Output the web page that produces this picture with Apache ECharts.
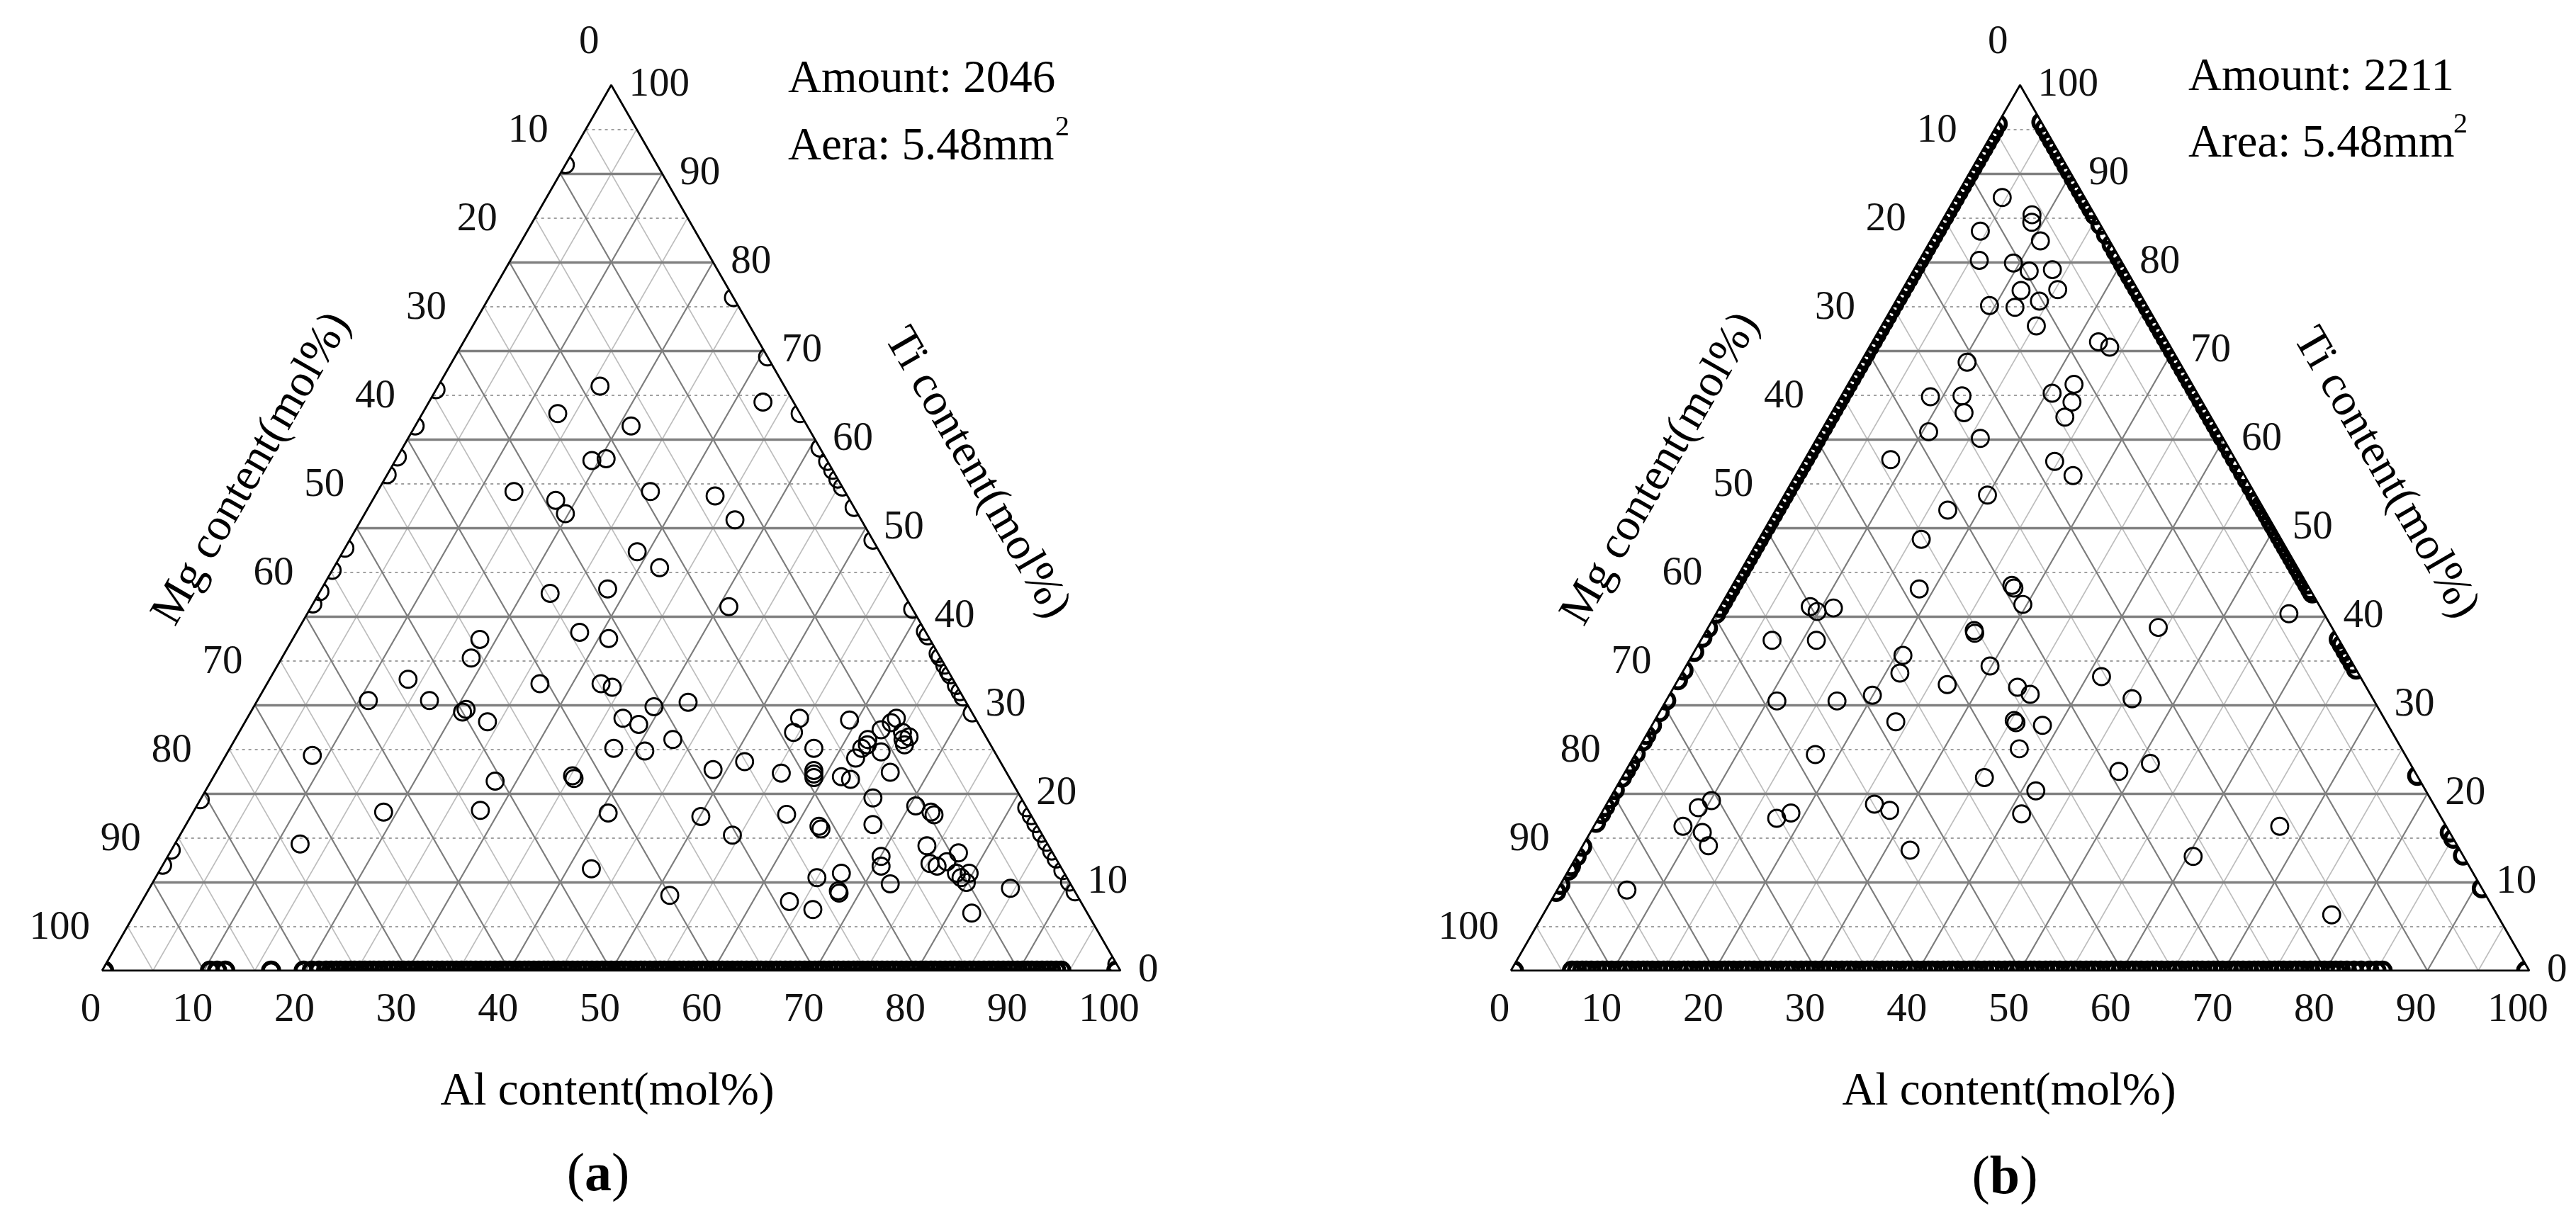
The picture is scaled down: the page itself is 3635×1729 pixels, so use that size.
<!DOCTYPE html>
<html>
<head>
<meta charset="utf-8">
<script src="https://cdn.jsdelivr.net/npm/echarts@6/dist/echarts.min.js"></script>
<style>
html,body{margin:0;padding:0;background:#fff;overflow:hidden;}
#chart{width:3635px;height:1729px;}
</style>
</head>
<body>
<div id="chart"></div>
<script>
// ---------- DATA (ternary values: [Al, Ti] in mol%, Mg = 100 - Al - Ti) ----------
const tickLabels = [0, 10, 20, 30, 40, 50, 60, 70, 80, 90, 100];
const majorGrid = [10, 20, 30, 40, 50, 60, 70, 80, 90];
const minorGrid = [5, 15, 25, 35, 45, 55, 65, 75, 85, 95];

// panel (a)
const aInterior = [
 [15.9,66],[13.3,62.9],[21.2,61.5],[32.8,64.2],[19.3,57.6],[20.6,57.8],[13.4,54.1],[18,53.1],[19.7,51.6],
 [26.8,54.1],[33.4,53.6],[36.7,50.9],[28.9,47.3],[32,45.5],[22.7,42.6],[28.1,43.1],[41,41.1],
 [18.4,37.4],[18.6,35.3],[27.8,38.2],[31,37.5],[13.6,32.9],[10.9,30.5],[16.9,30.5],[20.8,29.2],[21.0,29.5],
 [23.8,28.1],[26.8,32.4],[32.8,32.4],[34.1,32],[39.3,29.8],[36.9,28.5],[38.8,27.8],[43,26.1],[37.7,25.1],
 [40.9,24.8],[8.5,24.3],[27.9,21.4],[35.2,22],[35.5,21.7],[18.7,17.9],[28.1,18.1],[40.8,17.8],[12.3,14.3],
 [42.3,11.5],[51.5,8.5],
 [42.4,30.3],[48.65,22.7],[51.3,23.6],[55.55,22.3],[54.25,28.5],[54.45,26.9],[57.35,25.1],[58.6,22.6],
 [58.8,22.2],[59,21.8],[59.25,28.3],[61.65,21.9],[62.7,21.6],[63.75,28.5],[63.5,28.0],[62.9,27.2],[62.15,26.1],
 [62.4,25.5],[62.05,25.1],[62,24],[64.15,24.7],[65.15,26.9],[66.05,26.4],[65.6,26.1],[66.05,25.5],[66.2,22.4],
 [65.95,19.5],[70.6,18.6],[72.45,17.9],[72.9,17.6],[67.45,16.5],[50.1,17.4],[54.25,15.3],[58.4,17.65],
 [62.25,16.3],[62.6,16.0],[70.05,12.9],[70.6,11.8],[73.95,14.1],[75.25,12.1],[76.1,11.8],[76.8,12.3],
 [77.45,13.3],[78.4,11],[79.1,10.5],[79.65,11],[79.9,9.95],[72.5,9.8],[64.95,10.5],[67.1,11],[68,8.75],
 [67.8,9.0],[63.6,7.8],[66.35,6.9],[84.55,9.3],[82.15,6.5]
];
const aLeftEdgeTi = [91, 65.6, 61.5, 58, 56, 47.7, 45.2, 42.8, 41.4, 19.3, 13.6, 11.9];
const aRightEdgeTi = [76, 69.3, 62.9, 59, 57.5, 56.5, 55.5, 54.6, 52.3, 48.6, 40.8, 38.3, 37.8, 35.8, 35.4,
 34.5, 33.8, 33.4, 32.2, 31.5, 30.9, 29.1, 18.4, 17.5, 16.6, 15.5, 14.5, 13.5, 12.6, 11.3, 10, 8.9, 0.7];
const aBottomAl = [0.2, 10.6, 11.3, 12.1, 16.6, 19.8, 20.6, 21.3,
 22.0,22.5,23.0,23.4,23.9,24.4,24.8,25.3,25.8,26.3,26.7,27.2,27.7,28.2,28.6,29.1,29.6,30.1,30.5,31.0,31.5,
 32.0,32.4,32.9,33.4,33.9,34.3,34.8,35.3,35.8,36.2,36.7,37.2,37.7,38.1,38.6,39.1,39.6,40.0,40.5,41.0,41.5,
 41.9,42.4,42.9,43.4,43.8,44.3,44.8,45.3,45.7,46.2,46.7,47.2,47.6,48.1,48.6,49.1,49.5,50.0,50.5,51.0,51.4,
 51.9,52.4,52.9,53.3,53.8,54.3,54.8,55.2,55.7,56.2,56.7,57.1,57.6,58.1,58.6,59.0,59.5,60.0,60.5,60.9,61.4,
 61.9,62.4,62.8,63.3,63.8,64.3,64.7,65.2,65.7,66.2,66.6,67.1,67.6,68.1,68.5,69.0,69.5,70.0,70.4,70.9,71.4,
 71.9,72.3,72.8,73.3,73.8,74.2,74.7,75.2,75.7,76.1,76.6,77.1,77.6,78.0,78.5,79.0,79.5,79.9,80.4,80.9,81.4,
 81.8,82.3,82.8,83.3,83.7,84.2,84.7,85.2,85.6,86.1,86.6,87.1,87.5,88.0,88.5,89.0,89.4,89.9,90.4,90.9,91.3,
 91.8,92.3,92.8,93.2,93.7,94.2,99.6];

// panel (b)
const bInterior = [
 [4.6,87.3],[8.5,85.35],[8.9,84.5],[4.35,83.5],[10.8,82.4],[5.9,80.2],[9.4,79.9],[11.4,79],[13.6,79.15],
 [11.7,76.8],[15.25,76.9],[14.1,75.6],[9.45,75.1],[12.05,74.9],[15.2,72.8],[22.2,71],[23.6,70.4],[10.45,68.7],
 [22.2,66.2],[20.55,65.2],[23,64.2],[23.15,62.5],[8.8,64.8],[11.85,64.9],[13,63],[10.6,60.85],[16.05,60.1],
 [8.45,57.7],[24.65,57.5],[27.25,55.9],[19.95,53.7],[16.9,52],[15.95,48.7],[18.55,43.1],[27.45,43.5],
 [27.8,43.2],[29.6,41.35],[8.85,41.1],[9.8,40.55],[11.2,40.95],[26.3,38.4],[26.5,38.1],[44.2,38.75],
 [7.0,37.3],[11.35,37.3],[20.7,35.6],[21.4,33.6],[29.85,34.4],[26.7,32.3],[41.4,33.2],[33.75,32],[35.4,31.2],
 [45.65,30.7],[10.9,30.45],[16.8,30.45],[19.95,31.1],[23.75,28.1],[35.3,28.25],[35.6,28.0],[38.35,27.7],
 [37.4,25.05],[17.7,24.4],[51.1,23.4],[48.45,22.5],
 [56.25,40.3],[41.4,20.3],[41.3,17.7],[67.35,16.3],[60.55,12.9],[77.45,6.3],
 [35.6,21.8],[10.1,19.2],[9.2,18.4],[8.75,16.3],[11,15.6],[12.35,14.1],[17.5,17.2],[18.6,17.8],[26.3,18.8],
 [28.15,18.1],[32.4,13.6],[6.85,9.1]
];
const bLeftEdgeTi = [95.6,94.9,94.2,93.5,92.8,92.1,91.4,90.7,90.0,89.3,88.6,87.9,87.2,86.5,85.8,85.1,84.4,
 83.7,83.0,82.3,81.6,80.9,80.2,79.5,78.8,78.1,77.4,76.7,76.0,75.3,74.6,73.9,73.2,72.5,71.8,71.1,70.4,69.7,
 69.0,68.3,67.6,66.9,66.2,65.5,64.8,64.1,63.4,62.7,62.0,61.3,60.6,59.9,59.2,58.5,57.8,57.1,56.4,55.7,55.0,
 54.3,53.6,52.9,52.2,51.5,50.8,50.1,49.4,48.7,48.0,47.3,46.6,45.9,45.2,44.5,43.8,43.1,42.4,41.7,41.0,40.3,
 38.7,37.6,36.0,33.9,32.8,30.5,29.2,27.7,26.6,25.9,24.5,23.4,22.6,21.8,20.4,19.4,18.5,17.7,16.7,14.0,12.9,
 11.8,11.3,9.7,8.9];
const bRightEdgeTi = [95.8,95.1,94.4,93.7,93.0,92.3,91.6,90.9,90.2,89.5,88.8,88.1,87.4,86.7,86.0,85.3,84.2,
 83.1,82.0,81.2,80.5,79.8,79.1,78.4,77.7,77.0,76.3,75.6,74.9,74.2,73.5,72.8,72.1,71.4,70.7,70.0,69.3,68.6,
 67.9,67.2,66.5,65.8,65.1,64.4,63.7,63.0,62.3,61.6,60.9,60.2,59.4,58.6,57.8,57.0,56.2,55.4,54.6,53.8,53.2,
 52.6,52.0,51.4,50.8,50.2,49.6,49.0,48.4,47.8,47.2,46.6,46.0,45.4,44.8,44.2,43.6,43.0,42.6,
 37.4,36.8,36.1,35.4,34.7,34.0,22.0,15.6,14.9,13.0,9.3];
const bBottomAl = [0.3,
 6.0,6.5,7.0,7.4,7.9,8.5,9.0,9.4,9.9,10.5,11.0,11.4,11.9,12.5,13.0,13.4,13.9,14.5,15.0,15.4,15.9,16.5,17.0,
 17.4,17.9,18.5,19.0,19.4,19.9,20.5,21.0,21.4,21.9,22.5,23.0,23.4,23.9,24.5,25.0,25.4,25.9,26.5,27.0,27.4,
 27.9,28.5,29.0,29.4,29.9,30.5,31.0,31.4,31.9,32.5,33.0,33.4,33.9,34.5,35.0,35.4,35.9,36.5,37.0,37.4,37.9,
 38.5,39.0,39.4,39.9,40.5,41.0,41.4,41.9,42.5,43.0,43.4,43.9,44.5,45.0,45.4,45.9,46.5,47.0,47.4,47.9,48.5,
 49.0,49.4,49.9,50.5,51.0,51.4,51.9,52.5,53.0,53.4,53.9,54.5,55.0,55.4,55.9,56.5,57.0,57.4,57.9,58.5,59.0,
 59.4,59.9,60.5,61.0,61.4,61.9,62.5,63.0,63.4,63.9,64.5,65.0,65.4,65.9,66.5,67.0,67.4,67.9,68.5,69.0,69.4,
 69.9,70.5,71.0,71.4,71.9,72.5,73.0,73.4,73.9,74.5,75.0,75.4,75.9,76.5,77.0,77.4,77.9,78.5,79.0,79.4,79.9,
 80.5,81.0,81.5,82.1,82.8,83.5,84.3,85.0,85.6,99.7];

// ---------- LAYOUT / STYLE ----------
const FONT = '"Liberation Serif", "Times New Roman", Times, serif';
const TICK_SIZE = 57, TITLE_SIZE = 65;
const GRIDS = [
  {left: 144, top: 120, width: 1437, height: 1250},
  {left: 2132, top: 120, width: 1437, height: 1250}
];

function toXY(al, ti) { return [al + ti / 2, ti]; }
const fromInterior = arr => arr.map(p => toXY(p[0], p[1]));
const fromLeft = arr => arr.map(t => toXY(0, t));
const fromRight = arr => arr.map(t => toXY(100 - t, t));
const fromBottom = arr => arr.map(a => toXY(a, 0));

function hLines(vals) { return vals.map(t => ({coords: [toXY(0, t), toXY(100 - t, t)]})); }
function dLines(vals) {
  const out = [];
  vals.forEach(v => {
    out.push({coords: [toXY(v, 0), toXY(v, 100 - v)]});          // Al = v
    out.push({coords: [toXY(100 - v, 0), toXY(0, 100 - v)]});    // Mg = v
  });
  return out;
}

function maskRender(params, api) {
  const A = api.coord([0, 0]), B = api.coord([100, 0]), C = api.coord([50, 100]);
  const cen = [(A[0] + B[0] + C[0]) / 3, (A[1] + B[1] + C[1]) / 3];
  function band(P, Q) {
    const dx = Q[0] - P[0], dy = Q[1] - P[1], L = Math.hypot(dx, dy);
    const ux = dx / L, uy = dy / L;
    let nx = -uy, ny = ux;
    const mx = (P[0] + Q[0]) / 2 - cen[0], my = (P[1] + Q[1]) / 2 - cen[1];
    if (nx * mx + ny * my < 0) { nx = -nx; ny = -ny; }
    const e = 30, w = 24;
    const P2 = [P[0] - ux * e, P[1] - uy * e], Q2 = [Q[0] + ux * e, Q[1] + uy * e];
    return {type: 'polygon', shape: {points: [P2, Q2, [Q2[0] + nx * w, Q2[1] + ny * w], [P2[0] + nx * w, P2[1] + ny * w]]},
            style: {fill: '#ffffff', stroke: null}};
  }
  return {type: 'group', children: [band(A, B), band(B, C), band(C, A)]};
}

function labelRender(params, api) {
  const v = api.value(0);
  const font = TICK_SIZE + 'px ' + FONT;
  const mg = api.coord(toXY(0, 100 - v));       // Mg = v on left edge
  const ti = api.coord(toXY(100 - v, v));       // Ti = v on right edge
  const al = api.coord(toXY(v, 0));             // Al = v on bottom edge
  const mk = (x, y, align) => ({type: 'text', x: x, y: y,
     style: {text: String(v), font: font, fill: '#111', textAlign: align, align: align,
             textVerticalAlign: 'middle', verticalAlign: 'middle'}});
  return {type: 'group', children: [
    mk(mg[0] - 17, mg[1] - 60, 'right'),
    mk(ti[0] + 25, ti[1], 'left'),
    mk(al[0] - 16, al[1] + 56, 'center')
  ]};
}

const panels = [
  {normal: fromInterior(aInterior).concat(fromLeft(aLeftEdgeTi), fromRight(aRightEdgeTi)),
   dense: fromBottom(aBottomAl)},
  {normal: fromInterior(bInterior),
   dense: fromLeft(bLeftEdgeTi).concat(fromRight(bRightEdgeTi), fromBottom(bBottomAl))}
];

const series = [];
panels.forEach((p, i) => {
  const ax = {xAxisIndex: i, yAxisIndex: i};
  series.push(Object.assign({type: 'lines', coordinateSystem: 'cartesian2d', data: dLines(minorGrid),
    lineStyle: {color: '#bdbdbd', width: 1.6, opacity: 1}, z: 1, silent: true, animation: false}, ax));
  series.push(Object.assign({type: 'lines', coordinateSystem: 'cartesian2d', data: hLines(minorGrid),
    lineStyle: {color: '#a0a0a0', width: 2, type: [4, 5], opacity: 1}, z: 1, silent: true, animation: false}, ax));
  series.push(Object.assign({type: 'lines', coordinateSystem: 'cartesian2d', data: dLines(majorGrid),
    lineStyle: {color: '#7c7c7c', width: 2.2, opacity: 1}, z: 1, silent: true, animation: false}, ax));
  series.push(Object.assign({type: 'lines', coordinateSystem: 'cartesian2d', data: hLines(majorGrid),
    lineStyle: {color: '#808080', width: 3.4, opacity: 1}, z: 1, silent: true, animation: false}, ax));
  series.push(Object.assign({type: 'scatter', data: p.normal, symbol: 'circle', symbolSize: 24,
    itemStyle: {color: 'rgba(255,255,255,0)', borderColor: '#000', borderWidth: 2.8, opacity: 1},
    z: 2, silent: true, animation: false}, ax));
  series.push(Object.assign({type: 'scatter', data: p.dense, symbol: 'circle', symbolSize: 23,
    itemStyle: {color: 'rgba(255,255,255,0)', borderColor: '#000', borderWidth: 5.5, opacity: 1},
    z: 2, silent: true, animation: false}, ax));
  series.push(Object.assign({type: 'custom', data: [[0, 0]], renderItem: maskRender, z: 3, silent: true,
    animation: false}, ax));
  series.push(Object.assign({type: 'line', data: [[0, 0], [100, 0], [50, 100], [0, 0]], symbol: 'none',
    lineStyle: {color: '#000', width: 2.8}, z: 4, silent: true, animation: false}, ax));
  series.push(Object.assign({type: 'custom', data: tickLabels.map(t => [t, 0]), renderItem: labelRender,
    z: 5, silent: true, animation: false}, ax));
});

function txt(x, y, text, size, rot, align, extra) {
  return Object.assign({type: 'text', x: x, y: y, rotation: rot || 0, z: 10,
    style: {text: text, font: size + 'px ' + FONT, fill: '#000', textAlign: align || 'center',
            textVerticalAlign: 'middle'}}, extra || {});
}
const OFF = GRIDS[1].left - GRIDS[0].left;
const graphic = [
  txt(356, 662, 'Mg content(mol%)', TITLE_SIZE, Math.PI / 3),
  txt(1378, 668, 'Ti content(mol%)', TITLE_SIZE, -Math.PI / 3),
  txt(857, 1542, 'Al content(mol%)', TITLE_SIZE, 0),
  txt(356 + OFF, 662, 'Mg content(mol%)', TITLE_SIZE, Math.PI / 3),
  txt(1378 + OFF, 668, 'Ti content(mol%)', TITLE_SIZE, -Math.PI / 3),
  txt(857 + OFF - 10, 1542, 'Al content(mol%)', TITLE_SIZE, 0),
  txt(1112, 113, 'Amount: 2046', TITLE_SIZE, 0, 'left'),
  txt(1112, 208, 'Aera: 5.48mm', TITLE_SIZE, 0, 'left'),
  txt(1489, 180, '2', 40, 0, 'left'),
  txt(3088, 110, 'Amount: 2211', TITLE_SIZE, 0, 'left'),
  txt(3088, 204, 'Area: 5.48mm', TITLE_SIZE, 0, 'left'),
  txt(3462, 176, '2', 40, 0, 'left'),
  {type: 'text', x: 844, y: 1660, z: 10, style: {text: '{n|(}{b|a}{n|)}', textAlign: 'center', textVerticalAlign: 'middle',
    rich: {n: {fontSize: 76, fontFamily: FONT, fill: '#000'}, b: {fontSize: 76, fontFamily: FONT, fontWeight: 'bold', fill: '#000'}}}},
  {type: 'text', x: 844 + OFF - 3, y: 1664, z: 10, style: {text: '{n|(}{b|b}{n|)}', textAlign: 'center', textVerticalAlign: 'middle',
    rich: {n: {fontSize: 76, fontFamily: FONT, fill: '#000'}, b: {fontSize: 76, fontFamily: FONT, fontWeight: 'bold', fill: '#000'}}}}
];

const chart = echarts.init(document.getElementById('chart'), null, {renderer: 'canvas'});
chart.setOption({
  backgroundColor: '#ffffff',
  animation: false,
  grid: GRIDS.map(g => Object.assign({containLabel: false}, g)),
  xAxis: GRIDS.map((g, i) => ({type: 'value', gridIndex: i, min: 0, max: 100, show: false})),
  yAxis: GRIDS.map((g, i) => ({type: 'value', gridIndex: i, min: 0, max: 100, show: false})),
  series: series,
  graphic: graphic
});
</script>
</body>
</html>
